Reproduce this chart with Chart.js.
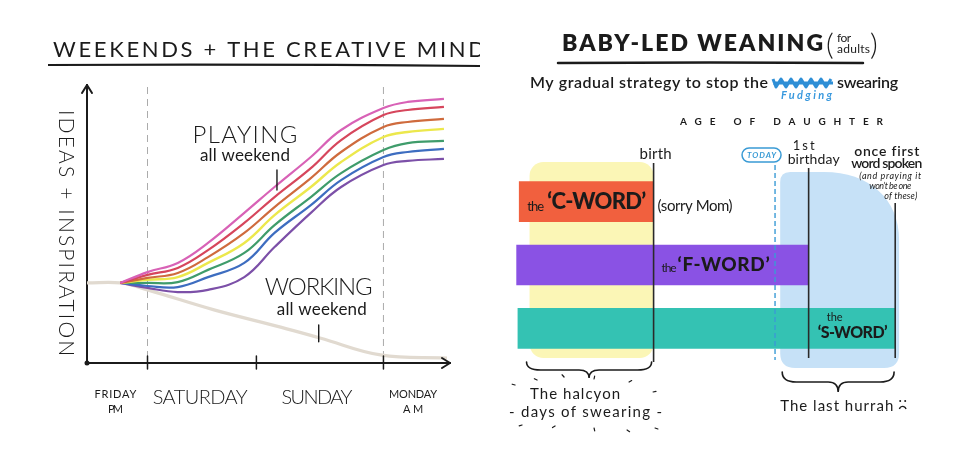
<!DOCTYPE html>
<html>
<head>
<meta charset="utf-8">
<title>Weekends + the creative mind / Baby-led weaning</title>
<script src="https://cdn.jsdelivr.net/npm/chart.js@4.4.1/dist/chart.umd.min.js"></script>
<style>
  html, body { margin: 0; padding: 0; background: #fff; }
  #wrap { position: relative; width: 960px; height: 450px; overflow: hidden; }
  .panel { position: absolute; top: 0; width: 480px; height: 450px; }
  #leftPanel { left: 0; }
  #rightPanel { left: 480px; }
</style>
</head>
<body>
<div id="wrap">
  <div class="panel" id="leftPanel"><canvas id="cv_weekend"></canvas></div>
  <div class="panel" id="rightPanel"><canvas id="cv_weaning"></canvas></div>
</div>
<script>
// ---- left chart: weekends + the creative mind ----
const timeX      = [5.5, 10, 15, 20, 26, 31, 37, 42, 49, 53, 59];
const playPink   = [28.8, 32.7, 36, 43.2, 54, 63.3, 74.1, 83.8, 91.7, 93.9, 95];
const playRed    = [28.8, 31.7, 34.2, 40.6, 50.4, 59.7, 70.1, 80.2, 89.2, 91, 92.1];
const playOrange = [28.8, 30.6, 32.4, 38.1, 46.8, 56.1, 66.5, 75.9, 84.9, 86.7, 87.8];
const playYellow = [28.8, 29.9, 30.9, 36, 43.2, 53.2, 63.3, 72.3, 81.3, 83.1, 84.2];
const playGreen  = [28.8, 28.8, 29.1, 33.5, 39.6, 49.6, 59.7, 68.3, 76.6, 79.1, 79.9];
const playBlue   = [28.8, 27.7, 27.3, 30.9, 36, 46.8, 56.8, 65.8, 74.1, 75.9, 77];
const playPurple = [28.8, 27, 25.5, 26.3, 30.9, 41.7, 54, 63.3, 71.2, 72.7, 73.4];

const workX = [0, 5.5, 10, 21, 32, 38.5, 48.5, 59.5];
const workY = [28.8, 28.8, 26.3, 19.1, 12.9, 9.0, 2.9, 1.8];

const dayLabels  = [['FRIDAY', 'PM'], 'SATURDAY', 'SUNDAY', ['MONDAY', 'AM']];
const dayLabelAt = [4.7, 18.7, 38, 53.9];
const dayBreaks  = [10, 28, 49];

const noteText = ['PLAYING', 'all weekend', 'WORKING', 'all weekend'];
const noteX    = [26.1, 26.1, 38.3, 38.8];
const noteY    = [82, 74.8, 27.3, 19.1];

// ---- right chart: baby-led weaning ----
const swearWords  = ['C-WORD', 'F-WORD', 'S-WORD'];
const swearFrom   = [-10.4, -10.6, -10.5];
const swearUntil  = [0, 12, 18.7];
const milestoneLines = [['birth'], ['TODAY'], ['1st', 'birthday'], ['once first', 'word spoken']];
const milestoneAt = [0, 9.4, 12, 18.7];
const halcyonSpan = [-9.6, 0];
const hurrahSpan  = [9.8, 19];

const ink = '#1b1b1b';

// draws text so that it spans the given width
const fitText = (ctx, s, x, y, font, width, color) => {
    ctx.save();
    ctx.font = font;
    ctx.fillStyle = color || ink;
    ctx.textAlign = 'left';
    ctx.textBaseline = 'middle';
    const w = ctx.measureText(s).width;
    const sp = s.length > 1 ? (width - w) / (s.length - 1) : 0;
    ctx.letterSpacing = sp.toFixed(2) + 'px';
    ctx.fillText(s, x, y);
    ctx.restore();
};

const weekendDecor = {
    id: 'weekendDecor',
    beforeDatasetsDraw(chart) {
        const {ctx, chartArea: a, scales: {x}} = chart;
        ctx.save();
        ctx.strokeStyle = '#ababab';
        ctx.lineWidth = 1;
        ctx.setLineDash([7, 5]);
        [dayBreaks[0], dayBreaks[2]].forEach(v => {
            const px = x.getPixelForValue(v);
            ctx.beginPath();
            ctx.moveTo(px, a.top + 2);
            ctx.lineTo(px, a.bottom);
            ctx.stroke();
        });
        ctx.restore();
    },
    afterDraw(chart) {
        const {ctx, chartArea: a, scales: {x, y}} = chart;
        ctx.save();
        ctx.strokeStyle = ink;
        ctx.lineWidth = 2;
        ctx.lineCap = 'round';
        ctx.lineJoin = 'round';
        ctx.beginPath();
        ctx.moveTo(a.left - 5, a.top + 8); ctx.lineTo(a.left, a.top); ctx.lineTo(a.left + 5, a.top + 8);
        ctx.moveTo(a.right - 8, a.bottom - 5); ctx.lineTo(a.right, a.bottom); ctx.lineTo(a.right - 8, a.bottom + 5);
        ctx.stroke();
        ctx.lineWidth = 1.5;
        dayBreaks.forEach(v => {
            const px = x.getPixelForValue(v);
            ctx.beginPath();
            ctx.moveTo(px, a.bottom - 7);
            ctx.lineTo(px, a.bottom + 6);
            ctx.stroke();
        });
        ctx.fillStyle = ink;
        ctx.beginPath(); ctx.arc(a.left, a.bottom, 2.5, 0, Math.PI * 2); ctx.fill();

        // pointers from the notes to the lines
        ctx.lineWidth = 1.4;
        ctx.beginPath();
        ctx.moveTo(x.getPixelForValue(31.4), y.getPixelForValue(69.4));
        ctx.lineTo(x.getPixelForValue(31.4), y.getPixelForValue(62.2));
        ctx.moveTo(x.getPixelForValue(38.3), y.getPixelForValue(13.7));
        ctx.lineTo(x.getPixelForValue(38.3), y.getPixelForValue(7.6));
        ctx.stroke();
        ctx.restore();

        // day names under the axis
        const small = {FRIDAY: 42, PM: 15, MONDAY: 48, AM: 20};
        const big = {SATURDAY: 95, SUNDAY: 71};
        dayLabels.forEach((lab, i) => {
            const px = x.getPixelForValue(dayLabelAt[i]);
            if (Array.isArray(lab)) {
                fitText(ctx, lab[0], px - small[lab[0]] / 2, a.bottom + 31, '11px Lato', small[lab[0]]);
                fitText(ctx, lab[1], px - small[lab[1]] / 2, a.bottom + 46, '11px Lato', small[lab[1]]);
            } else {
                fitText(ctx, lab, px - big[lab] / 2, a.bottom + 35, '300 20px Lato', big[lab]);
            }
        });

        // notes on the lines
        const noteW = [105, 90, 108, 90];
        noteText.forEach((s, i) => {
            const big = s === s.toUpperCase();
            fitText(ctx, s, x.getPixelForValue(noteX[i]) - noteW[i] / 2, y.getPixelForValue(noteY[i]),
                big ? '300 24px Lato' : '17px Lato', noteW[i]);
        });

        // y axis title, reading downwards
        ctx.save();
        ctx.translate(a.left - 21, 110);
        ctx.rotate(Math.PI / 2);
        fitText(ctx, 'IDEAS + INSPIRATION', 0, 0, '300 21px Lato', 246);
        ctx.restore();

        // title + underline
        fitText(ctx, 'WEEKENDS + THE CREATIVE MIND', 53, 50, '22px Lato', 432);
        ctx.save();
        ctx.strokeStyle = ink;
        ctx.lineWidth = 2.2;
        ctx.beginPath();
        ctx.moveTo(48, 65);
        ctx.quadraticCurveTo(260, 64, 480, 66);
        ctx.stroke();
        ctx.restore();
    }
};

const makeLine = (label, xs, ys, color, width) => ({
    label: label,
    data: xs.map((v, i) => ({x: v, y: ys[i]})),
    borderColor: color,
    borderWidth: width,
    pointRadius: 0,
    tension: 0.4,
    fill: false
});

const weekendChart = new Chart(document.getElementById('cv_weekend').getContext('2d'), {
    type: 'line',
    data: {
        datasets: [
            makeLine('Playing (pink)', timeX, playPink, '#d862b6', 2.2),
            makeLine('Playing (red)', timeX, playRed, '#d6465c', 2.2),
            makeLine('Playing (orange)', timeX, playOrange, '#cf6b3d', 2.2),
            makeLine('Playing (yellow)', timeX, playYellow, '#ece84c', 2.4),
            makeLine('Playing (green)', timeX, playGreen, '#3f9c6b', 2.2),
            makeLine('Playing (blue)', timeX, playBlue, '#3d6dc0', 2.2),
            makeLine('Playing (purple)', timeX, playPurple, '#7c50a8', 2.2),
            makeLine('Working', workX, workY, '#e1dad0', 3.2)
        ]
    },
    options: {
        responsive: true,
        maintainAspectRatio: false,
        animation: false,
        layout: {padding: {left: 87, top: 85, right: 30, bottom: 87}},
        plugins: {legend: {display: false}, tooltip: {enabled: false}},
        scales: {
            x: {
                type: 'linear', min: 0, max: 60,
                ticks: {display: false},
                grid: {display: false, drawTicks: false},
                border: {display: true, color: ink, width: 2}
            },
            y: {
                type: 'linear', min: 0, max: 100,
                ticks: {display: false},
                grid: {display: false, drawTicks: false},
                border: {display: true, color: ink, width: 2}
            }
        }
    },
    plugins: [weekendDecor]
});

// curly brace opening downwards
const drawBrace = (ctx, x1, x2, top, depth) => {
    const mid = (x1 + x2) / 2;
    const h = depth / 2;
    ctx.beginPath();
    ctx.moveTo(x1, top);
    ctx.quadraticCurveTo(x1, top + h, x1 + 14, top + h);
    ctx.lineTo(mid - 10, top + h);
    ctx.quadraticCurveTo(mid, top + h, mid, top + depth);
    ctx.quadraticCurveTo(mid, top + h, mid + 10, top + h);
    ctx.lineTo(x2 - 14, top + h);
    ctx.quadraticCurveTo(x2, top + h, x2, top);
    ctx.stroke();
};

const weaningDecor = {
    id: 'weaningDecor',
    beforeDatasetsDraw(chart) {
        const {ctx, chartArea: a, scales: {x}} = chart;
        ctx.save();
        const yl = x.getPixelForValue(halcyonSpan[0]);
        const yr = x.getPixelForValue(halcyonSpan[1]);
        ctx.fillStyle = '#fbf6b6';
        ctx.beginPath();
        ctx.roundRect(yl, a.top - 8, yr - yl, a.bottom - a.top + 6, 14);
        ctx.fill();

        const bl = x.getPixelForValue(hurrahSpan[0]);
        const br = x.getPixelForValue(hurrahSpan[1]);
        const T = a.top + 2, B = a.bottom + 8;
        ctx.fillStyle = '#c6e1f7';
        ctx.beginPath();
        ctx.moveTo(bl, T + 10);
        ctx.quadraticCurveTo(bl, T, bl + 10, T);
        ctx.lineTo(br - 75, T);
        ctx.bezierCurveTo(br - 30, T, br, T + 27, br, T + 68);
        ctx.lineTo(br, B - 15);
        ctx.quadraticCurveTo(br, B, br - 15, B);
        ctx.lineTo(bl + 15, B);
        ctx.quadraticCurveTo(bl, B, bl, B - 15);
        ctx.closePath();
        ctx.fill();
        ctx.restore();
    },
    afterDatasetsDraw(chart) {
        const {ctx, chartArea: a, scales: {x}} = chart;
        const mx = milestoneAt.map(v => x.getPixelForValue(v));
        ctx.save();
        ctx.strokeStyle = '#2a2a2a';
        ctx.lineWidth = 1.6;
        const vline = (px, t, b) => { ctx.beginPath(); ctx.moveTo(px, t); ctx.lineTo(px, b); ctx.stroke(); };
        vline(mx[0], a.top - 7, a.bottom + 2);
        vline(mx[2], a.top - 2, a.bottom - 2);
        vline(mx[3], a.top + 33, a.bottom - 2);
        ctx.strokeStyle = '#3a9bd5';
        ctx.lineWidth = 1.4;
        ctx.setLineDash([5, 3]);
        vline(mx[1], a.top - 5, a.bottom);
        ctx.restore();

        // milestone labels
        fitText(ctx, milestoneLines[0][0], mx[0] - 14, a.top - 16, '15px Lato', 32);
        ctx.save();
        ctx.strokeStyle = '#3a9bd5';
        ctx.lineWidth = 1.5;
        ctx.beginPath();
        ctx.roundRect(mx[1] - 33, a.top - 22, 39, 14, 7);
        ctx.stroke();
        ctx.restore();
        fitText(ctx, milestoneLines[1][0], mx[1] - 28, a.top - 15, 'italic 700 8px Lato', 29, '#3a9bd5');
        fitText(ctx, milestoneLines[2][0], mx[2] - 16, a.top - 24, '13px Lato', 22);
        fitText(ctx, milestoneLines[2][1], mx[2] - 21, a.top - 11, '14px Lato', 52);
        fitText(ctx, milestoneLines[3][0], mx[3] - 41, a.top - 19, '600 14px Lato', 65);
        fitText(ctx, milestoneLines[3][1], mx[3] - 44, a.top - 7, '600 14px Lato', 71);
        fitText(ctx, '(and praying it', mx[3] - 36, a.top + 6, 'italic 9px Lato', 62);
        fitText(ctx, 'won\u2019t be one', mx[3] - 26, a.top + 16, 'italic 9px Lato', 42);
        fitText(ctx, 'of these)', mx[3] - 11, a.top + 26, 'italic 9px Lato', 33);

        // labels on the bars
        const bars = chart.getDatasetMeta(0).data;
        const q = w => '\u2018' + w + '\u2019';
        const c0 = x.getPixelForValue(swearFrom[0]);
        fitText(ctx, 'the', c0 + 8, bars[0].y + 5, '13px Lato', 17);
        fitText(ctx, q(swearWords[0]), c0 + 28, bars[0].y, '900 22px Lato', 99);
        fitText(ctx, '(sorry Mom)', mx[0] + 4, bars[0].y + 4, '15px Lato', 75);
        fitText(ctx, 'the', mx[0] + 8, bars[1].y + 3, '12px Lato', 15);
        fitText(ctx, q(swearWords[1]), mx[0] + 24, bars[1].y, '900 19px Lato', 92);
        fitText(ctx, 'the', mx[2] + 18, bars[2].y - 11, '11px Lato', 16);
        fitText(ctx, q(swearWords[2]), mx[2] + 9, bars[2].y + 5, '900 16px Lato', 70);

        // braces and their notes
        ctx.save();
        ctx.strokeStyle = ink;
        ctx.lineWidth = 1.6;
        ctx.lineCap = 'round';
        const hl = x.getPixelForValue(halcyonSpan[0]) - 3;
        const hr = x.getPixelForValue(halcyonSpan[1]) - 2;
        drawBrace(ctx, hl, hr, a.bottom + 2, 16);
        const ul = x.getPixelForValue(hurrahSpan[0]) + 2;
        const ur = x.getPixelForValue(hurrahSpan[1]) - 5;
        drawBrace(ctx, ul, ur, a.bottom + 12, 20);
        // little rays round the halcyon note
        const cx = (hl + hr) / 2, cy = a.bottom + 45;
        ctx.lineWidth = 1.2;
        [[-52, -25], [-25, -28], [5, -26], [40, -23], [-74, -20], [-67, 20], [-34, 21], [5, 23], [38, 25], [66, 23], [64, -13]].forEach(([dx, dy]) => {
            const len = Math.hypot(dx, dy);
            ctx.beginPath();
            ctx.moveTo(cx + dx, cy + dy);
            ctx.lineTo(cx + dx + dx / len * 3, cy + dy + dy / len * 3);
            ctx.stroke();
        });
        ctx.restore();
        fitText(ctx, 'The halcyon', cx - 59, a.bottom + 34, '15px Lato', 90);
        fitText(ctx, '- days of swearing -', cx - 80, a.bottom + 52, '15px Lato', 153);
        fitText(ctx, 'The last hurrah', ul - 2, a.bottom + 46, '15px Lato', 113);
        // sad face
        ctx.save();
        ctx.fillStyle = ink;
        ctx.strokeStyle = ink;
        ctx.lineWidth = 1.4;
        const fx = ul + 120, fy = a.bottom + 46;
        ctx.beginPath(); ctx.arc(fx - 2, fy - 5, 1, 0, Math.PI * 2); ctx.fill();
        ctx.beginPath(); ctx.arc(fx + 3, fy - 5, 1, 0, Math.PI * 2); ctx.fill();
        ctx.beginPath(); ctx.arc(fx + 0.5, fy + 4, 3.5, Math.PI * 1.1, Math.PI * 1.9); ctx.stroke();
        ctx.restore();
    },
    afterDraw(chart) {
        const {ctx} = chart;
        fitText(ctx, 'BABY-LED WEANING', 82, 44, '800 23px Lato', 261);
        fitText(ctx, '(', 346, 45, '300 30px Lato', 8);
        fitText(ctx, 'for', 357, 38, '12px Lato', 14);
        fitText(ctx, 'adults', 357, 49, '12px Lato', 33);
        fitText(ctx, ')', 390, 45, '300 30px Lato', 8);
        ctx.save();
        ctx.strokeStyle = ink;
        ctx.lineWidth = 2.5;
        ctx.lineCap = 'round';
        ctx.beginPath();
        ctx.moveTo(78, 63);
        ctx.quadraticCurveTo(230, 62, 383, 63);
        ctx.stroke();
        ctx.restore();

        fitText(ctx, 'My gradual strategy to stop the', 50, 83, '600 16px Lato', 238);
        // scribbled-out word
        ctx.save();
        ctx.strokeStyle = '#2f8fd6';
        ctx.lineWidth = 3;
        ctx.lineJoin = 'round';
        ctx.beginPath();
        ctx.moveTo(293, 79);
        for (let k = 0; k < 12; k++) {
            ctx.lineTo(296 + k * 5, k % 2 ? 79 : 87);
        }
        ctx.moveTo(293, 83);
        ctx.lineTo(353, 83);
        ctx.stroke();
        ctx.restore();
        fitText(ctx, 'Fudging', 301, 95, 'italic 700 11px Lato', 51, '#3b9ade');
        fitText(ctx, 'swearing', 357, 83, '600 16px Lato', 61);
        fitText(ctx, 'AGE OF DAUGHTER', 200, 122, '700 10px Lato', 203);
    }
};

const weaningChart = new Chart(document.getElementById('cv_weaning').getContext('2d'), {
    type: 'bar',
    data: {
        labels: swearWords,
        datasets: [{
            label: 'Swearing',
            data: swearFrom.map((v, i) => [v, swearUntil[i]]),
            backgroundColor: ['#f1603e', '#8a52e4', '#34c2b3'],
            borderWidth: 0,
            borderSkipped: false,
            barThickness: 40
        }]
    },
    options: {
        indexAxis: 'y',
        responsive: true,
        maintainAspectRatio: false,
        animation: false,
        layout: {padding: {left: 25, top: 170, right: 48, bottom: 90}},
        plugins: {legend: {display: false}, tooltip: {enabled: false}},
        scales: {
            x: {type: 'linear', min: -11.5, max: 20, display: false},
            y: {type: 'category', display: false}
        }
    },
    plugins: [weaningDecor]
});
</script>
</body>
</html>
